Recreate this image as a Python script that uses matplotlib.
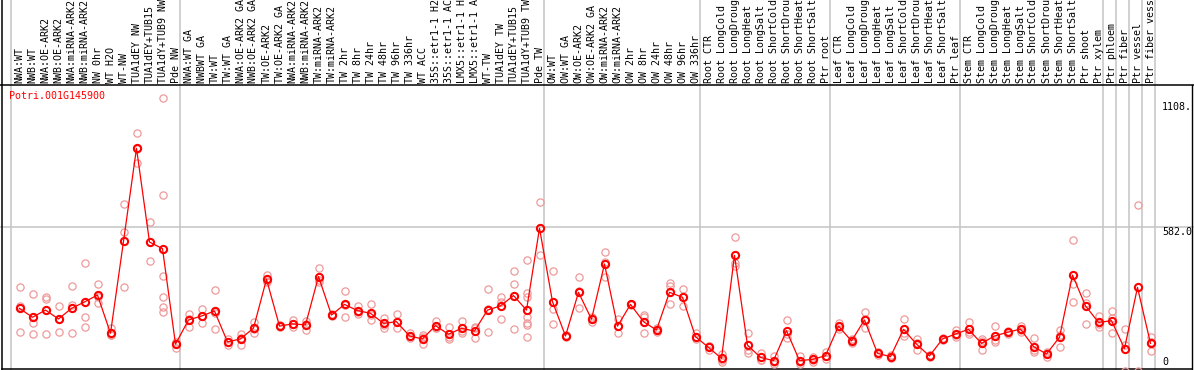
import matplotlib
matplotlib.use("Agg")
import matplotlib.pyplot as plt

# sample labels, one column each (as far as they show above the plot)
labels = [
    "NWA:WT", "NWB:WT", "NWA:OE-ARK2", "NWB:OE-ARK2", "NWA:miRNA-ARK2", "NWB:miRNA-ARK2",
    "NW 0hr", "WT H2O", "WT-NW", "TUA1dEY NW", "TUA1dEY+TUB15", "TUA1dY+TUB9 NW", "Pde NW",
    "NWA:WT GA", "NWBWT GA", "TW:WT", "TW:WT GA", "NWA:OE-ARK2 GA", "NWB:OE-ARK2 GA",
    "TW:OE-ARK2", "TW:OE-ARK2 GA", "NWA:miRNA-ARK2", "NWB:miRNA-ARK2", "TW:miRNA-ARK2",
    "TW:miRNA-ARK2", "TW 2hr", "TW 8hr", "TW 24hr", "TW 48hr", "TW 96hr", "TW 336hr",
    "WT ACC", "35S::etr1-1 H2", "35S::etr1-1 AC", "LMX5::etr1-1 H", "LMX5::etr1-1 A",
    "WT-TW", "TUA1dEY TW", "TUA1dEY+TUB15", "TUA1dY+TUB9 TW", "Pde TW",
    "OW:WT", "OW:WT GA", "OW:OE-ARK2", "OW:OE-ARK2 GA", "OW:miRNA-ARK2", "OW:miRNA-ARK2",
    "OW 2hr", "OW 8hr", "OW 24hr", "OW 48hr", "OW 96hr", "OW 336hr",
    "Root CTR", "Root LongCold", "Root LongDroug", "Root LongHeat", "Root LongSalt",
    "Root ShortCold", "Root ShortDrou", "Root ShortHeat", "Root ShortSalt", "Ptr root",
    "Leaf CTR", "Leaf LongCold", "Leaf LongDroug", "Leaf LongHeat", "Leaf LongSalt",
    "Leaf ShortCold", "Leaf ShortDrou", "Leaf ShortHeat", "Leaf ShortSalt", "Ptr leaf",
    "Stem CTR", "Stem LongCold", "Stem LongDroug", "Stem LongHeat", "Stem LongSalt",
    "Stem ShortCold", "Stem ShortDrou", "Stem ShortHeat", "Stem ShortSalt", "Ptr shoot",
    "Ptr xylem", "Ptr phloem", "Ptr fiber", "Ptr vessel", "Ptr fiber vess",
]

# first column of each group (separator lines)
group_starts = [0, 13, 41, 53, 63, 73, 84, 85, 86, 87, 88]

means = [
    254, 218, 247, 211, 254, 280, 308, 153, 526, 903, 523, 496, 109,
    207, 223, 243, 118, 130, 174, 372, 182, 191, 187, 383, 227, 270, 245, 234,
    193, 200, 142, 130, 184, 149, 173, 162, 247, 264, 306, 247, 579,
    281, 142, 319, 210, 434, 182, 270, 200, 166, 319, 299, 139,
    96, 51, 469, 105, 55, 42, 164, 42, 47, 62,
    182, 122, 207, 72, 58, 169, 109, 61, 130, 150,
    169, 112, 142, 157, 170, 99, 69, 137, 389, 264, 197,
    204, 91, 339, 112,
]

replicates = [
    [339, 264, 160], [312, 196, 150], [301, 291, 150], [264, 211, 157], [345, 269, 153],
    [437, 219, 177], [353, 300, 274], [173, 146, 146], [676, 564, 339], [964, 900, 845],
    [603, 446], [1108, 712, 385, 299, 261, 241], [119, 109, 95],
    [231, 177, 210], [250, 193, 225], [328, 234, 169], [128, 118, 105], [150, 105, 135],
    [199, 153, 170], [389, 362, 365], [185, 180, 182], [207, 177, 190], [204, 166, 190],
    [416, 362, 370], [230, 224, 227], [324, 220, 266], [264, 231, 240], [270, 207, 226],
    [216, 176, 187], [230, 173, 197], [153, 133, 140], [145, 108, 137], [203, 173, 176],
    [180, 131, 136], [203, 153, 163], [180, 133, 173], [331, 160, 250], [301, 281, 210],
    [406, 351, 170], [450, 318, 301, 220, 196, 187, 139], [687, 470, 580],
    [406, 250, 191], [137, 142, 147], [380, 254, 323], [220, 200, 210], [481, 380, 440],
    [210, 153, 183], [270, 268, 272], [227, 153, 220], [173, 160, 166], [358, 345, 270],
    [333, 265, 300], [153, 128, 136],
    [100, 87, 101], [69, 38, 46], [542, 437, 426], [153, 87, 72], [74, 45, 46],
    [61, 37, 28], [207, 133, 152], [61, 35, 30], [45, 38, 58], [79, 60, 47],
    [196, 170, 180], [125, 112, 129], [239, 173, 209], [77, 66, 73], [63, 52, 59],
    [211, 142, 154], [128, 85, 114], [65, 55, 63], [133, 127, 130], [166, 137, 147],
    [197, 150, 160], [128, 85, 123], [182, 119, 125], [160, 150, 161], [182, 160, 168],
    [132, 78, 87], [78, 55, 74], [166, 99, 146], [531, 353, 278], [315, 277, 189],
    [223, 177, 191], [245, 153, 214], [169, 104, 0], [672, 0], [137, 81, 118],
]

title = "Potri.001G145900"
ytick_values = [1108, 582, 0]
ytick_labels = ["1108.", "582.0", "0"]
grid_value = 582

W, H = 1194, 370


# pixel -> data helpers (layout only)
def px_x(p):
    return (p - 19.5) / 13.0


def px_y(p):
    return (371 - p) / 0.2466


fig = plt.figure(figsize=(W / 100, H / 100), dpi=100)
ax = fig.add_axes([0, 0, 1, 1])
ax.set_xlim(px_x(0), px_x(W))
ax.set_ylim(px_y(H), px_y(0))
ax.axis("off")

mono = "DejaVu Sans Mono"
fs = 7.2
grey = "#c4c4c4"

# frame
ax.axhline(px_y(85), color="black", lw=1.1, zorder=3)
ax.plot([px_x(2), px_x(1192)], [px_y(368.5)] * 2, color="black", lw=1.1, zorder=3)
ax.axvline(px_x(2), color="black", lw=1.1, zorder=3)
ax.plot([px_x(1192)] * 2, [px_y(85), px_y(370)], color="black", lw=1.0, zorder=3)

# group separators and grid
for g in group_starts:
    ax.axvline(g - 0.62, color=grey, lw=1.1, zorder=1)
ax.axhline(grid_value, color=grey, lw=1.1, zorder=1)

# replicate points
for i, reps in enumerate(replicates):
    ax.plot([i] * len(reps), reps, linestyle="none", marker="o", ms=5.2,
            mfc="none", mec="#ee9a9a", mew=0.9, zorder=4)

# mean line and markers
xs = list(range(len(means)))
ax.plot(xs, means, color="#ff0000", lw=0.9, zorder=5)
ax.plot(xs, means, linestyle="none", marker="o", ms=5.2, mfc="none",
        mec="#ff0000", mew=1.5, zorder=6)

# column labels
for i, lab in enumerate(labels):
    ax.text(i, px_y(83), lab, rotation=90, ha="center", va="bottom",
            family=mono, fontsize=fs, color="black")

ax.text(px_x(9), px_y(96), title, ha="left", va="center", family=mono,
        fontsize=fs, color="#ff0000")

# value labels at the right (pixel shift downward from the value)
shifts = [9, 4.5, -9]
for v, lab, s in zip(ytick_values, ytick_labels, shifts):
    ax.annotate(lab, xy=(px_x(1162), v), xytext=(0, -s * 0.72),
                textcoords="offset points", ha="left", va="center",
                family=mono, fontsize=fs, color="black", annotation_clip=False)

fig.savefig("out.png", dpi=100)
